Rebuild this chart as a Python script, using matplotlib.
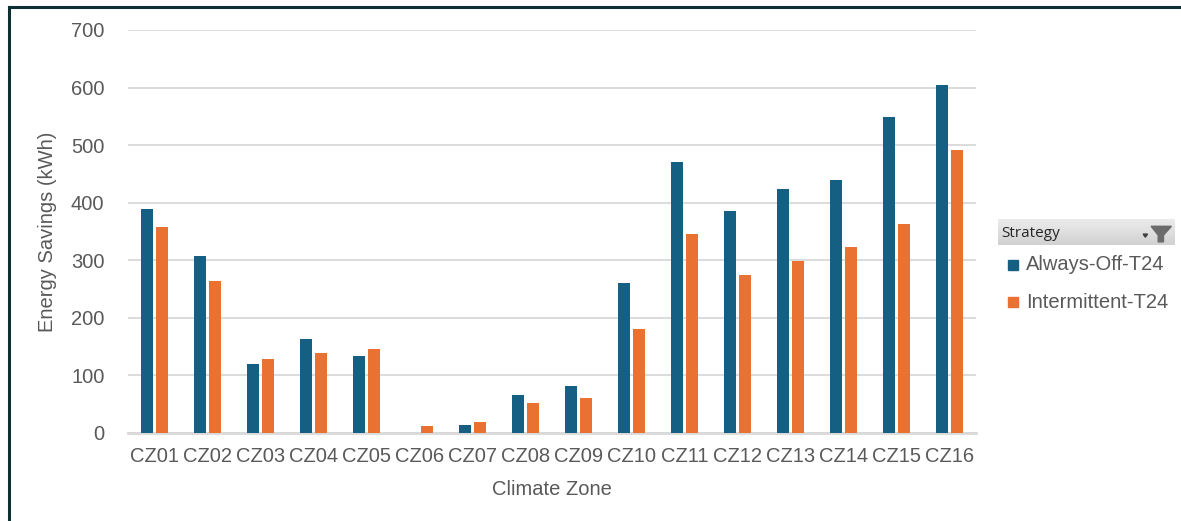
import matplotlib
matplotlib.use("Agg")
import matplotlib.pyplot as plt
import numpy as np
from matplotlib.patches import Rectangle, Polygon
from matplotlib.lines import Line2D

categories = ["CZ01", "CZ02", "CZ03", "CZ04", "CZ05", "CZ06", "CZ07", "CZ08",
              "CZ09", "CZ10", "CZ11", "CZ12", "CZ13", "CZ14", "CZ15", "CZ16"]
always_off = [389, 307, 120, 163, 134, 0, 14, 66, 82, 261, 471, 386, 424, 439, 549, 604]
intermittent = [358, 264, 128, 139, 146, 12, 19, 52, 61, 181, 346, 274, 299, 323, 363, 492]
series_names = ["Always-Off-T24", "Intermittent-T24"]
colors = ["#156082", "#E97132"]
yticks = [0, 100, 200, 300, 400, 500, 600, 700]

plt.rcParams['font.family'] = ['Liberation Sans', 'DejaVu Sans']

W, H = 1181, 521
fig = plt.figure(figsize=(W / 100, H / 100), dpi=100)
ax = fig.add_axes([128 / W, 1 - 433 / H, (976 - 128) / W, (433 - 30) / H])

x = np.arange(len(categories))
bw = 0.217
gap = 0.066
off = (bw + gap) / 2
ax.bar(x - off, always_off, bw, color=colors[0], zorder=3, linewidth=0)
ax.bar(x + off, intermittent, bw, color=colors[1], zorder=3, linewidth=0)

ax.set_xlim(-0.5, len(categories) - 0.5)
ax.set_ylim(0, 700)
ax.set_yticks(yticks)
ax.yaxis.grid(True, color="#d9d9d9", linewidth=1.3, zorder=0)
ax.set_axisbelow(True)
for s in ["top", "right", "left"]:
    ax.spines[s].set_visible(False)
ax.spines["bottom"].set_color("#d9d9d9")
ax.spines["bottom"].set_linewidth(2)
ax.set_xticks(x)
ax.set_xticklabels(categories)
ax.tick_params(axis="both", length=0, labelsize=14.5, colors="#595959")
ax.tick_params(axis="x", pad=10)
ax.tick_params(axis="y", pad=17)
ax.set_xlabel("Climate Zone", fontsize=14.5, color="#595959", labelpad=10)
ax.set_ylabel("Energy Savings (kWh)", fontsize=14.5, color="#595959", labelpad=10)

# figure border (left and top)
border = "#0d2f33"
fig.add_artist(Line2D([9 / W, 9 / W], [0, 1 - 7 / H], transform=fig.transFigure,
                      color=border, linewidth=2.2))
fig.add_artist(Line2D([9 / W, 1], [1 - 7 / H, 1 - 7 / H], transform=fig.transFigure,
                      color=border, linewidth=2.2))

# legend header with gradient
hx0, hx1, hy0, hy1 = 998, 1175, 219, 245
hax = fig.add_axes([hx0 / W, 1 - hy1 / H, (hx1 - hx0) / W, (hy1 - hy0) / H])
grad = np.linspace(0.93, 0.82, 50).reshape(-1, 1)
hax.imshow(np.dstack([grad, grad, grad]), aspect="auto", extent=[0, 1, 0, 1])
hax.set_xlim(0, 1)
hax.set_ylim(0, 1)
hax.axis("off")
hax.text(0.02, 0.45, "Strategy", fontsize=11, color="#262626", va="center", ha="left",
         family=["Open Sans", "DejaVu Sans"])
# filter icon
fx = [(0.865, 0.72), (0.98, 0.72), (0.935, 0.38), (0.935, 0.12), (0.905, 0.12), (0.905, 0.38)]
hax.add_patch(Polygon(fx, closed=True, color="#6b6b6b", transform=hax.transAxes))
hax.add_patch(Polygon([(0.82, 0.42), (0.845, 0.42), (0.8325, 0.3)], closed=True,
                      color="#404040", transform=hax.transAxes))

# legend items
for i, (name, c) in enumerate(zip(series_names, colors)):
    yc = 265 + i * 37
    fig.add_artist(Rectangle((1008 / W, 1 - (yc + 5) / H), 10 / W, 10 / H,
                             transform=fig.transFigure, color=c))
    fig.text(1026 / W, 1 - yc / H, name, fontsize=14.5, color="#595959",
             va="center", ha="left")

fig.savefig("out.png", dpi=100)
